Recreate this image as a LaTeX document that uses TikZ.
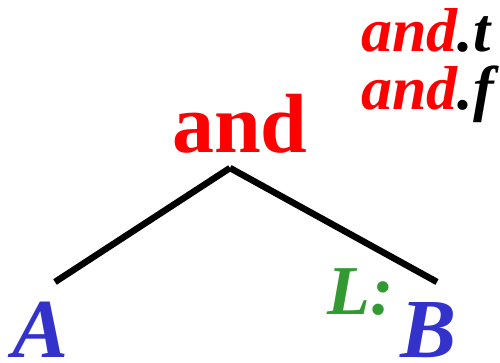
\documentclass[tikz,border=0pt]{standalone}
\usepackage{fontspec}
\setmainfont{Liberation Serif}
\usepackage{xcolor}
\definecolor{opred}{RGB}{255,0,0}
\definecolor{leafblue}{RGB}{51,51,204}
\definecolor{lblgreen}{RGB}{51,153,51}

\begin{document}
\begin{tikzpicture}[
  x=1pt, y=-1pt,
  every node/.style={inner sep=0pt, anchor=base},
  opnode/.style={font=\fontsize{84}{84}\selectfont\bfseries, text=opred},
  leaf/.style={font=\fontsize{84}{84}\selectfont\bfseries\itshape, text=leafblue, text depth=0pt},
  lbl/.style={font=\fontsize{70}{70}\selectfont\bfseries\itshape, text=lblgreen},
  attr/.style={font=\fontsize{62}{62}\selectfont\bfseries\itshape, anchor=base west},
  edge/.style={line width=6.5pt}
]
\useasboundingbox (0,0) rectangle (500,363);
\node[opnode] (root) at (240,153) {and};
\coordinate (apex)  at (230,168);
\coordinate (lend)  at (55,282);
\coordinate (rend)  at (437,282);
\node[leaf] (A) at (41,357) {A};
\node[leaf] (B) at (429,357) {B};
\node[lbl]  (L) at (361,314) {L:};
\node[attr] (at) at (361,52)  {\textcolor{opred}{and}.t};
\node[attr] (af) at (361,110) {\textcolor{opred}{and}.f};

\draw[edge] (apex) -- (lend);
\draw[edge] (apex) -- (rend);
\end{tikzpicture}
\end{document}
